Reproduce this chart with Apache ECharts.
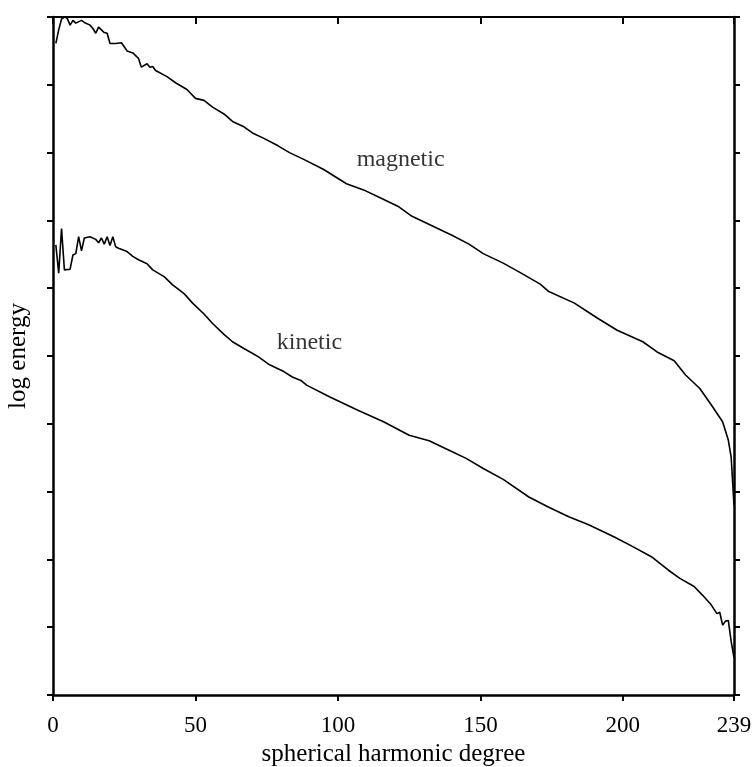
<!DOCTYPE html>
<html>
<head>
<meta charset="utf-8">
<script src="https://cdn.jsdelivr.net/npm/echarts@6/dist/echarts.min.js"></script>
<style>
html,body{margin:0;padding:0;background:#fff;}
#chart{width:754px;height:767px;}
</style>
</head>
<body>
<div id="chart"></div>
<script>
// spherical harmonic degree values and log energy values
var magneticDeg = [1,2,3,4,5,6,7,8,10,11,13,14,15,16,18,19,20,22,24,25,26,28,30,31,33,34,35,36,40,43,47,50,53,56,60,63,67,70,74,79,83,88,95,103,109,115,121,126,133,140,146,151,158,164,171,174,183,191,198,207,212,218,222,227,231,235,237,238,239];
var magneticVal = [9.61,9.81,9.97,10.0,9.98,9.88,9.95,9.91,9.95,9.92,9.88,9.83,9.76,9.85,9.77,9.76,9.61,9.61,9.62,9.56,9.50,9.47,9.39,9.26,9.31,9.26,9.27,9.21,9.12,9.03,8.93,8.80,8.77,8.67,8.57,8.46,8.38,8.29,8.21,8.10,8.00,7.90,7.75,7.54,7.45,7.33,7.21,7.06,6.92,6.78,6.65,6.51,6.37,6.23,6.06,5.95,5.78,5.56,5.38,5.21,5.06,4.93,4.72,4.52,4.28,4.03,3.76,3.51,2.80];

var kineticDeg = [1,2,3,4,6,7,8,9,10,11,13,15,16,17,18,19,20,21,22,23,26,28,30,33,35,39,42,46,49,53,56,60,63,67,72,76,81,84,87,89,97,107,116,125,132,139,145,151,158,167,174,181,188,197,203,210,216,220,225,228,231,233,234,235,236,237,238,239];
var kineticVal = [6.64,6.22,6.88,6.27,6.28,6.49,6.51,6.76,6.55,6.74,6.76,6.72,6.67,6.74,6.65,6.76,6.63,6.76,6.61,6.59,6.54,6.47,6.42,6.36,6.27,6.17,6.05,5.92,5.78,5.62,5.48,5.32,5.21,5.11,4.99,4.87,4.77,4.69,4.64,4.57,4.40,4.20,4.03,3.83,3.75,3.61,3.49,3.34,3.18,2.92,2.77,2.63,2.51,2.33,2.20,2.04,1.84,1.72,1.60,1.47,1.33,1.20,1.22,1.03,1.09,1.10,0.79,0.55];

var xTickValues = [0,50,100,150,200,239];
var yMin = 0, yMax = 10, yStep = 1;

var curveLabels = ['magnetic','kinetic'];
var curveLabelDeg = [122, 90];
var curveLabelVal = [7.9, 5.2];

function pairs(xs, ys){ return xs.map(function(x,i){ return [x, ys[i]]; }); }

var FONT = '"Liberation Serif","Times New Roman",serif';

var chart = echarts.init(document.getElementById('chart'), null, {renderer:'canvas'});
chart.setOption({
  animation:false,
  backgroundColor:'#fff',
  grid:{left:53, right:20, top:17, bottom:72, containLabel:false, outerBoundsMode:'none'},
  xAxis:[
    {type:'value', position:'bottom', min:0, max:239,
     axisLine:{show:true, onZero:false, lineStyle:{color:'#000', width:2.5}},
     axisTick:{show:true, inside:false, length:6, lineStyle:{color:'#000', width:2}, customValues:xTickValues},
     axisLabel:{show:true, customValues:xTickValues, margin:19, color:'#000', fontFamily:FONT, fontSize:23},
     splitLine:{show:false},
     name:'spherical harmonic degree', nameLocation:'middle', nameGap:46,
     nameTextStyle:{color:'#000', fontFamily:FONT, fontSize:25}
    },
    {type:'value', position:'top', min:0, max:239,
     axisLine:{show:true, onZero:false, lineStyle:{color:'#000', width:2}},
     axisTick:{show:true, inside:true, length:7, lineStyle:{color:'#000', width:2}, customValues:xTickValues},
     axisLabel:{show:false},
     splitLine:{show:false}
    }
  ],
  yAxis:[
    {type:'value', position:'left', min:yMin, max:yMax, interval:yStep,
     axisLine:{show:true, onZero:false, lineStyle:{color:'#000', width:2.5}},
     axisTick:{show:true, inside:false, length:6, lineStyle:{color:'#000', width:2}},
     axisLabel:{show:false},
     splitLine:{show:false},
     name:'log energy', nameLocation:'middle', nameGap:22,
     nameTextStyle:{color:'#000', fontFamily:FONT, fontSize:25}
    },
    {type:'value', position:'right', min:yMin, max:yMax, interval:yStep,
     axisLine:{show:true, onZero:false, lineStyle:{color:'#000', width:2.5}},
     axisTick:{show:true, inside:false, length:6, lineStyle:{color:'#000', width:2}},
     axisLabel:{show:false},
     splitLine:{show:false}
    }
  ],
  series:[
    {type:'line', name:'magnetic', data:pairs(magneticDeg, magneticVal), showSymbol:false, symbol:'none',
     lineStyle:{color:'#000', width:1.6}, clip:false},
    {type:'line', name:'kinetic', data:pairs(kineticDeg, kineticVal), showSymbol:false, symbol:'none',
     lineStyle:{color:'#000', width:1.6}, clip:false},
    {type:'scatter', xAxisIndex:1, yAxisIndex:1,
     data:curveLabels.map(function(n,i){ return {name:n, value:[curveLabelDeg[i], curveLabelVal[i]]}; }),
     symbolSize:0, silent:true,
     label:{show:true, position:'inside', formatter:'{b}', color:'#000', fontFamily:FONT, fontSize:24}}
  ]
});
</script>
</body>
</html>
